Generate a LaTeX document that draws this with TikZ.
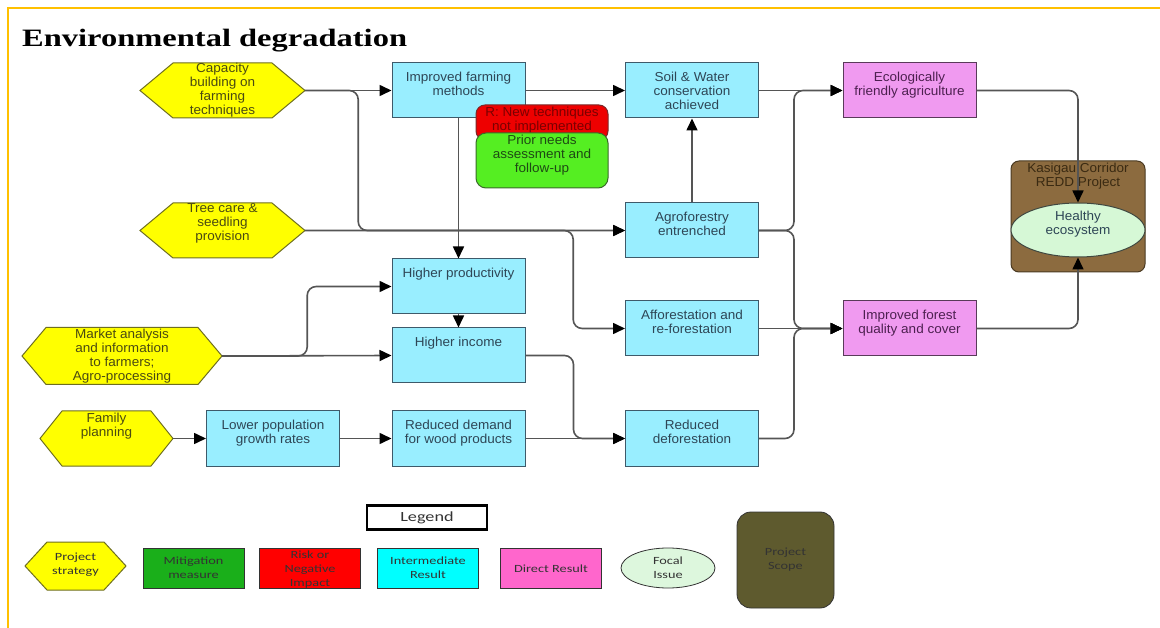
\documentclass[tikz,border=0pt]{standalone}
\usepackage{fontspec}
\setmainfont[FakeStretch=1.04]{Liberation Sans}
\newfontfamily\titlefont[FakeStretch=1.3]{Liberation Serif}
\newfontfamily\legfont[FakeStretch=1.3]{Carlito}
\usetikzlibrary{arrows.meta,shapes.geometric}
\definecolor{gold}{HTML}{FFC000}
\definecolor{hexfill}{HTML}{FFFF00}
\definecolor{hexdraw}{HTML}{6E6E20}
\definecolor{hextext}{HTML}{4A4A12}
\definecolor{cy}{HTML}{99EEFF}
\definecolor{cydraw}{HTML}{3E5A6A}
\definecolor{cytext}{HTML}{2E4656}
\definecolor{pk}{HTML}{F09AF0}
\definecolor{pkdraw}{HTML}{5A3A5A}
\definecolor{pktext}{HTML}{4D2050}
\definecolor{rdf}{HTML}{EE0000}
\definecolor{rddraw}{HTML}{7A2A2A}
\definecolor{rdtext}{HTML}{7A0000}
\definecolor{grf}{HTML}{55EE22}
\definecolor{grdraw}{HTML}{3A6A2A}
\definecolor{grtext}{HTML}{1E4A14}
\definecolor{scopef}{HTML}{8C6B3F}
\definecolor{scoped}{HTML}{4A3A22}
\definecolor{scopet}{HTML}{3A2A12}
\definecolor{ecof}{HTML}{D6F8D6}
\definecolor{ecod}{HTML}{404840}
\definecolor{lin}{HTML}{555555}
\definecolor{legtext}{HTML}{333333}
\definecolor{lmit}{HTML}{1AAF1A}
\definecolor{lrisk}{HTML}{FF0000}
\definecolor{linter}{HTML}{00FFFF}
\definecolor{ldir}{HTML}{FF66CC}
\definecolor{lfoc}{HTML}{DDF7DD}
\definecolor{lscope}{HTML}{5E5A2E}
\tikzset{
  conn/.style={draw=lin, line width=1.6pt, rounded corners=9pt,
    -{Triangle[length=12pt,width=11pt,color=black]}},
  hexsty/.style={fill=hexfill, draw=hexdraw, line width=1pt},
  hexn/.style={inner sep=0},
  hextx/.style={inner sep=0, align=center, font=\fontsize{13}{14}\selectfont, text=hextext},
  bbox/.style={draw=cydraw, fill=cy, line width=1pt, minimum width=133, minimum height=55, inner sep=0},
  pbox/.style={bbox, draw=pkdraw, fill=pk},
  btx/.style={anchor=north, inner sep=0, align=center, font=\fontsize{13}{14}\selectfont, text=cytext},
  ptx/.style={btx, text=pktext},
  ltx/.style={inner sep=0, align=center, font=\legfont\fontsize{11}{14}\selectfont, text=legtext},
  lbox/.style={draw=legtext, line width=0.8pt, minimum width=101, minimum height=40, inner sep=0}
}
% name, cx, cy, half width, half height, slant, text shift, text
\newcommand\HexNode[8]{%
  \filldraw[hexsty] ({#2-#4},#3) -- ({#2-#4+#6},{#3-#5}) -- ({#2+#4-#6},{#3-#5})
    -- ({#2+#4},#3) -- ({#2+#4-#6},{#3+#5}) -- ({#2-#4+#6},{#3+#5}) -- cycle;
  \node[hexn, minimum width={2*#4}, minimum height={2*#5}] (#1) at (#2,#3) {};
  \node[hextx] (#1T) at ([yshift=#7]#1.center) {#8};}
% kind (b/p), name, cx, cy, text
\newcommand\BX[5]{%
  \node[#1box] (#2) at (#3,#4) {};
  \node[#1tx] (#2T) at ([yshift=-9pt]#2.north) {#5};}
\begin{document}
\begin{tikzpicture}[x=1pt,y=-1pt]
\useasboundingbox (0,0) rectangle (1160,628);
\fill[white] (0,0) rectangle (1160,628);
\draw[gold, line width=2pt] (1160,8) -- (8,8) -- (8,628);
\node[anchor=base west, inner sep=0, font=\titlefont\bfseries\fontsize{25}{28}\selectfont] (title) at (22,46.5) {Environmental degradation};

% strategies
\HexNode{cap}{222.5}{90.5}{82.5}{27.5}{33}{0pt}{Capacity\\building on\\farming\\techniques}
\HexNode{tree}{222.5}{230.5}{82.5}{27.5}{33}{7pt}{Tree care \&\\seedling\\provision}
\HexNode{mkt}{122}{356}{100}{28.5}{24}{0pt}{Market analysis\\and information\\to farmers;\\Agro-processing}
\HexNode{fam}{106.5}{438.5}{66.5}{27.5}{22}{12pt}{Family\\planning}

% intermediate results
\BX{b}{ifm}{458.5}{90.5}{Improved farming\\methods}
\BX{b}{sw}{692}{90.5}{Soil \& Water\\conservation\\achieved}
\BX{b}{agro}{692}{230.5}{Agroforestry\\entrenched}
\BX{b}{hp}{458.5}{286.5}{Higher productivity}
\BX{b}{hi}{458.5}{355.5}{Higher income}
\BX{b}{aff}{692}{328.5}{Afforestation and\\re-forestation}
\BX{b}{lp}{273}{438.5}{Lower population\\growth rates}
\BX{b}{rdw}{458.5}{438.5}{Reduced demand\\for wood products}
\BX{b}{rd}{692}{438.5}{Reduced\\deforestation}
% direct results
\BX{p}{efa}{909.5}{90.5}{Ecologically\\friendly agriculture}
\BX{p}{ifq}{909.5}{328.5}{Improved forest\\quality and cover}

% risk and mitigation
\node[draw=rddraw, fill=rdf, line width=1pt, rounded corners=9pt, minimum width=132, minimum height=35, inner sep=0] (risk) at (542,122.5) {};
\node[anchor=north, inner sep=0, align=center, font=\fontsize{13}{14}\selectfont, text=rdtext] (riskT) at ([yshift=-2.5pt]risk.north) {R: New techniques\\not implemented};
\node[draw=grdraw, fill=grf, line width=1pt, rounded corners=10pt, minimum width=132, minimum height=55, inner sep=0] (mit) at (542,160.5) {};
\node[anchor=north, inner sep=0, align=center, font=\fontsize{13}{14}\selectfont, text=grtext] (mitT) at ([yshift=-2.5pt]mit.north) {Prior needs\\assessment and\\follow-up};

% project scope and focal issue
\node[draw=scoped, fill=scopef, line width=1pt, rounded corners=8pt, minimum width=134, minimum height=111, inner sep=0] (scope) at (1078,216.5) {};
\node[anchor=north, inner sep=0, align=center, font=\fontsize{13}{14}\selectfont, text=scopet] (scopeT) at ([yshift=-2.5pt]scope.north) {Kasigau Corridor\\REDD Project};
\node[ellipse, draw=ecod, fill=ecof, line width=1pt, minimum width=134, minimum height=54, inner sep=0] (eco) at (1078,230) {};
\node[inner sep=0, align=center, font=\fontsize{13}{14}\selectfont, text=cytext] (ecoT) at (1078,224) {Healthy\\ecosystem};

% connectors
\draw[conn] (cap.east) -- (ifm.west);
\draw[conn] (cap.east) -- ++(53,0) |- (agro.west);
\draw[conn] (tree.east) -- (agro.west);
\draw[conn] (tree.east) -- ++(268,0) |- (aff.west);
\draw[conn] (ifm.east) -- (sw.west);
\draw[conn] (ifm.south) -- (hp.north);
\draw[conn] (agro.north) -- (sw.south);
\draw[conn] (sw.east) -- (efa.west);
\draw[conn] (agro.east) -- ++(35,0) |- (efa.west);
\draw[conn] (agro.east) -- ++(35,0) |- (ifq.west);
\draw[conn] (aff.east) -- (ifq.west);
\draw[conn] (rd.east) -- ++(35,0) |- (ifq.west);
\draw[conn] (efa.east) -| (eco.north);
\draw[conn] (ifq.east) -| (eco.south);
\draw[conn] (mkt.east) -- ++(85,0) |- (hp.west);
\draw[conn] (mkt.east) -- (hi.west);
\draw[conn] (hp.south) -- (hi.north);
\draw[conn] (hi.east) -- ++(48,0) |- (rd.west);
\draw[conn] (rdw.east) -- (rd.west);
\draw[conn] (fam.east) -- (lp.west);
\draw[conn] (lp.east) -- (rdw.west);

% legend
\node[draw=black, line width=2.5pt, minimum width=120, minimum height=24, inner sep=0, font=\legfont\fontsize{14}{16}\selectfont, text=legtext] (leg) at (427,517.5) {Legend};
\filldraw[fill=hexfill, draw=hexdraw, line width=1pt] (25,566) -- (47,542) -- (104,542) -- (126,566) -- (104,590) -- (47,590) -- cycle;
\node[minimum width=101, minimum height=48, inner sep=0] (lhex) at (75.5,566) {};
\node[ltx] (lhexT) at ([yshift=1pt]lhex.center) {Project\\strategy};
\node[lbox, fill=lmit] (lmitb) at (193.5,568) {};
\node[ltx] (lmitT) at (lmitb.center) {Mitigation\\measure};
\node[lbox, fill=lrisk] (lriskb) at (310,568) {};
\node[ltx] (lriskT) at ([yshift=-1.5pt]lriskb.center) {Risk or\\Negative\\Impact};
\node[lbox, fill=linter] (linterb) at (428,568) {};
\node[ltx] (linterT) at (linterb.center) {Intermediate\\Result};
\node[lbox, fill=ldir] (ldirb) at (551,568) {};
\node[ltx] (ldirT) at ([yshift=-1pt]ldirb.center) {Direct Result};
\node[ellipse, draw=legtext, line width=0.8pt, fill=lfoc, minimum width=94, minimum height=40, inner sep=0] (lfocb) at (668,568) {};
\node[ltx] (lfocT) at (lfocb.center) {Focal\\Issue};
\node[draw=legtext, line width=0.8pt, fill=lscope, rounded corners=14pt, minimum width=97, minimum height=96, inner sep=0] (lscopeb) at (785.5,560) {};
\node[ltx] (lscopeT) at (lscopeb.center) {Project\\Scope};
\end{tikzpicture}
\end{document}
